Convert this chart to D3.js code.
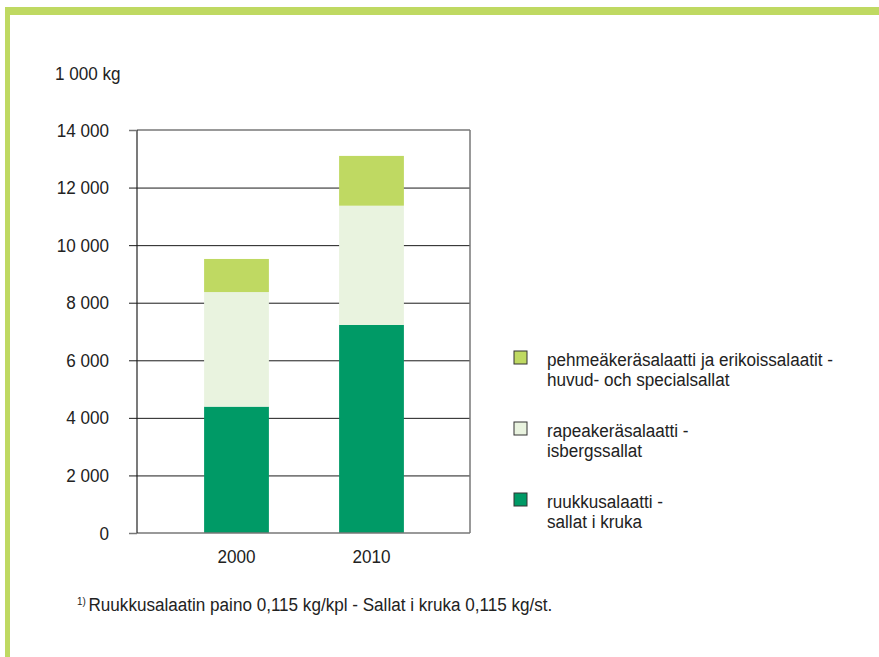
<!DOCTYPE html>
<html><head><meta charset="utf-8">
<script src="https://cdn.jsdelivr.net/npm/d3@7"></script>
<style>
body{margin:0;background:#fff;}
svg{display:block;font-family:"Liberation Sans Narrow","Arial Narrow","Liberation Sans",Arial,sans-serif;}
</style></head><body>
<svg id="c" width="879" height="657"></svg>
<script>
const years = ["2000", "2010"];
const ruukku = [4390, 7230];
const rapea = [3980, 4140];
const pehmea = [1150, 1730];
const yTicks = [0, 2000, 4000, 6000, 8000, 10000, 12000, 14000];
const seriesNames = [
  ["pehmeäkeräsalaatti ja erikoissalaatit -", "huvud- och specialsallat"],
  ["rapeakeräsalaatti -", "isbergssallat"],
  ["ruukkusalaatti -", "sallat i kruka"]
];
const unitLabel = "1 000 kg";
const footSup = "1)";
const footText = "Ruukkusalaatin paino 0,115 kg/kpl - Sallat i kruka 0,115 kg/st.";

const SX = 0.9, FS = 19;
const colors = {ruukku:"#009a66", rapea:"#e9f3df", pehmea:"#bfd962"};
const svg = d3.select("#c");

function ntext(parent, x, y) {
  return parent.append("g").attr("transform",`translate(${x},${y}) scale(${SX},1)`)
    .append("text").attr("font-size",FS).attr("fill","#222");
}

// frame
svg.append("rect").attr("x",5).attr("y",7).attr("width",874).attr("height",8).attr("fill","#bfd962");
svg.append("rect").attr("x",5).attr("y",7).attr("width",5).attr("height",650).attr("fill","#bfd962");

const L = 137, R = 470, T = 130, B = 533;
const y = d3.scaleLinear().domain([0,14000]).range([B,T]);
const x = d3.scaleBand().domain(years).range([169,439]).paddingInner(0.52).paddingOuter(0.26);

const fmt = d => d3.format(",")(d).replace(/,/g," ");

// grid
const grid = svg.append("g").attr("transform",`translate(${L},0)`)
  .call(d3.axisLeft(y).tickValues(yTicks.slice(1,-1)).tickSize(-(R-L)).tickFormat(""));
grid.select(".domain").remove();
grid.selectAll("line").attr("stroke","#1a1a1a").attr("stroke-width",1);

// stacked bars
const rows = years.map((yr,i)=>({year:yr, ruukku:ruukku[i], rapea:rapea[i], pehmea:pehmea[i]}));
const stack = d3.stack().keys(["ruukku","rapea","pehmea"])(rows);
svg.append("g").selectAll("g").data(stack).join("g").attr("fill",d=>colors[d.key])
  .selectAll("rect").data(d=>d).join("rect")
  .attr("x",d=>x(d.data.year)).attr("width",x.bandwidth())
  .attr("y",d=>y(d[1])).attr("height",d=>y(d[0])-y(d[1]));

// frame lines
const fr = svg.append("g").attr("fill","none");
fr.append("line").attr("x1",L).attr("x2",R).attr("y1",y(14000)).attr("y2",y(14000)).attr("stroke","#777").attr("stroke-width",1.5);
fr.append("line").attr("x1",R).attr("x2",R).attr("y1",y(14000)).attr("y2",y(0)).attr("stroke","#777").attr("stroke-width",1.5);
fr.append("line").attr("x1",L).attr("x2",R).attr("y1",y(0)).attr("y2",y(0)).attr("stroke","#777").attr("stroke-width",1.5);

// y axis
const ya = svg.append("g").attr("transform",`translate(${L},0)`)
  .call(d3.axisLeft(y).tickValues(yTicks).tickSize(8).tickPadding(20).tickFormat(fmt));
ya.select(".domain").attr("stroke","#222").attr("stroke-width",1.2).attr("d",`M0,${T}V${B}`);
ya.selectAll(".tick line").attr("stroke",(d)=> (d===0||d===14000)?"#777":"#1a1a1a").attr("stroke-width",(d)=>(d===0||d===14000)?1.5:1);
ya.selectAll("text").attr("font-size",FS).attr("fill","#222").attr("font-family",null)
  .attr("x",-28/SX).attr("transform",`scale(${SX},1)`);

// x labels
const xa = svg.append("g").attr("transform",`translate(0,${B})`)
  .call(d3.axisBottom(x).tickSize(0).tickPadding(17));
xa.select(".domain").remove();
xa.selectAll("text").attr("font-size",FS).attr("fill","#222").attr("font-family",null)
  .attr("transform",`scale(${SX},1)`);

ntext(svg, 55, 80).text(unitLabel);

// legend
const legKeys = ["pehmea","rapea","ruukku"];
const lg = svg.append("g");
legKeys.forEach((k,i)=>{
  const g = lg.append("g").attr("transform",`translate(514,${351+i*71})`);
  g.append("rect").attr("width",13).attr("height",13).attr("fill",colors[k]).attr("stroke","#333").attr("stroke-width",1);
  const t = ntext(g, 33, 14.5);
  seriesNames[i].forEach((s,j)=> t.append("tspan").attr("x",0).attr("dy", j===0?0:20.5).text(s));
});

// footnote
const ft = ntext(svg, 77, 611);
ft.append("tspan").attr("font-size",11).attr("dy",-6).text(footSup);
ft.append("tspan").attr("dx",3).attr("dy",6).text(footText);
</script>
</body></html>
